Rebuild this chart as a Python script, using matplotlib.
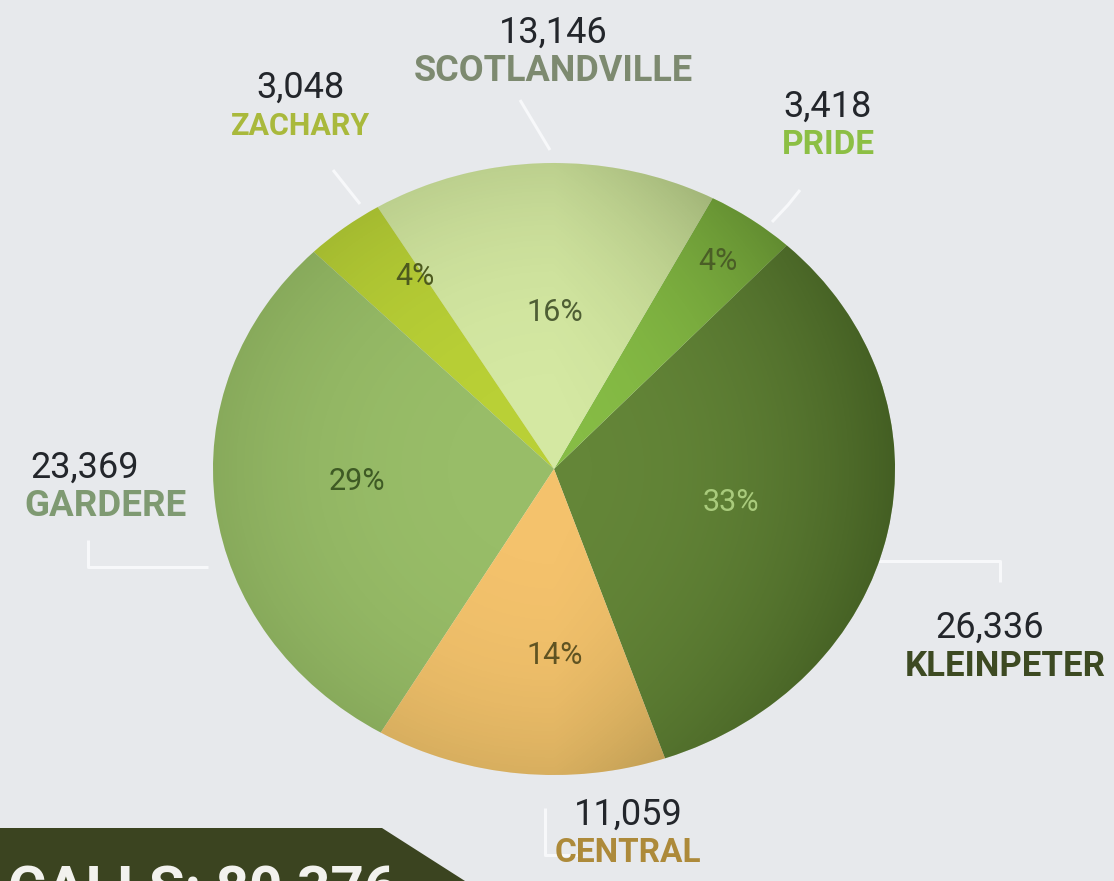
import matplotlib.pyplot as plt
from matplotlib.patches import Polygon, Ellipse
import numpy as np

# calls by area, counter-clockwise from the right
areas = ['KLEINPETER', 'PRIDE', 'SCOTLANDVILLE', 'ZACHARY', 'GARDERE', 'CENTRAL']
calls = [26336, 3418, 13146, 3048, 23369, 11059]
slice_colors = ['#648638', '#86bc45', '#d4e8a2', '#b9d036', '#98bd68', '#f4c26c']
name_colors = ['#3d4a22', '#8cbf44', '#7d8a70', '#a9b93c', '#7f9a72', '#ad8a3a']
pct_colors = ['#a9cb7c', '#4a5e26', '#4e5e34', '#4d5a1e', '#3e5a24', '#5f5322']
total_label = 'CALLS: 80,376'

BG = '#e7e9ec'
plt.rcParams['font.family'] = ['Roboto', 'DejaVu Sans']

W, H = 1114, 881
fig = plt.figure(figsize=(W / 100, H / 100), dpi=100, facecolor=BG)

# full-figure overlay axes in pixel coords (y down)
bg = fig.add_axes([0, 0, 1, 1])
bg.set_xlim(0, W)
bg.set_ylim(H, 0)
bg.axis('off')

# pie axes: the pie in the picture is slightly wider than tall
px0, py0, pw, ph = 213, 163, 682, 612
ax = fig.add_axes([px0 / W, 1 - (py0 + ph) / H, pw / W, ph / H])
wedges, _ = ax.pie(calls, colors=slice_colors, startangle=-71, counterclock=True,
                   radius=1, wedgeprops=dict(linewidth=0))
ax.set_aspect('auto')
ax.set_xlim(-1, 1)
ax.set_ylim(-1, 1)
ax.axis('off')

# soft green shading towards the rim, stronger on the right
gx, gy = np.meshgrid(np.linspace(-1, 1, 400), np.linspace(-1, 1, 400))
r = np.hypot(gx, gy)
shade = np.clip(0.13 * r ** 3 + 0.30 * np.clip(gx, 0, 1) * r, 0, 0.55)
img = np.zeros((400, 400, 4))
img[..., 0], img[..., 1], img[..., 2] = 0.1, 0.17, 0.03
img[..., 3] = shade
clip = Ellipse((0, 0), 2, 2, transform=ax.transData)
im = ax.imshow(img, extent=[-1, 1, -1, 1], origin='lower', zorder=3, aspect='auto')
im.set_clip_path(clip)

# percentage labels inside each slice
pct_r = [0.53, 0.83, 0.51, 0.75, 0.58, 0.61]
pct_dang = [0, 0, -2, -5, -3, 6]
tot = sum(calls)
for w, v, c, rr, da in zip(wedges, calls, pct_colors, pct_r, pct_dang):
    ang = np.deg2rad((w.theta1 + w.theta2) / 2 + da)
    ax.text(rr * np.cos(ang), rr * np.sin(ang), f'{round(100 * v / tot)}%',
            ha='center', va='center', fontsize=22, color=c, zorder=5)

# outer labels (value over name), pixel positions
label_xy = {
    'KLEINPETER': (1005, 628),
    'PRIDE': (828, 107),
    'SCOTLANDVILLE': (553, 33),
    'ZACHARY': (300, 88),
    'GARDERE': (105, 468),
    'CENTRAL': (628, 815),
}
name_size = {'SCOTLANDVILLE': 26, 'KLEINPETER': 25, 'GARDERE': 26.5,
             'CENTRAL': 24, 'PRIDE': 24, 'ZACHARY': 22}
num_dx = {'KLEINPETER': -15, 'GARDERE': -20}
for name, v, c in zip(areas, calls, name_colors):
    x, y = label_xy[name]
    bg.text(x + num_dx.get(name, 0), y, f'{v:,}', ha='center', va='center',
            fontsize=26, color='#23262b')
    bg.text(x, y + 38, name, ha='center', va='center', fontsize=name_size[name],
            fontweight='bold', color=c)

# leader lines
lc = '#f7f8fa'
leaders = [
    [(520, 100), (550, 150)],
    [(333, 170), (360, 204)],
    [(800, 190), (788, 205), (772, 222)],
    [(88, 540), (88, 567), (208, 567)],
    [(862, 561), (1000, 561), (1000, 582)],
    [(545, 808), (545, 855), (578, 855)],
]
for pts in leaders:
    xs, ys = zip(*pts)
    bg.plot(xs, ys, color=lc, lw=2.2, solid_capstyle='butt', zorder=1)

# dark banner bottom-left, mostly cut off
bg.add_patch(Polygon([(0, 828), (382, 828), (465, 881), (0, 881)],
                     closed=True, color='#3b4420', lw=0, zorder=2))
bg.text(8, 864, total_label, ha='left', va='top', fontsize=42, fontweight='bold',
        color='#f2f2ee', zorder=3, clip_on=True)

fig.savefig('out.png', dpi=100, facecolor=BG)
